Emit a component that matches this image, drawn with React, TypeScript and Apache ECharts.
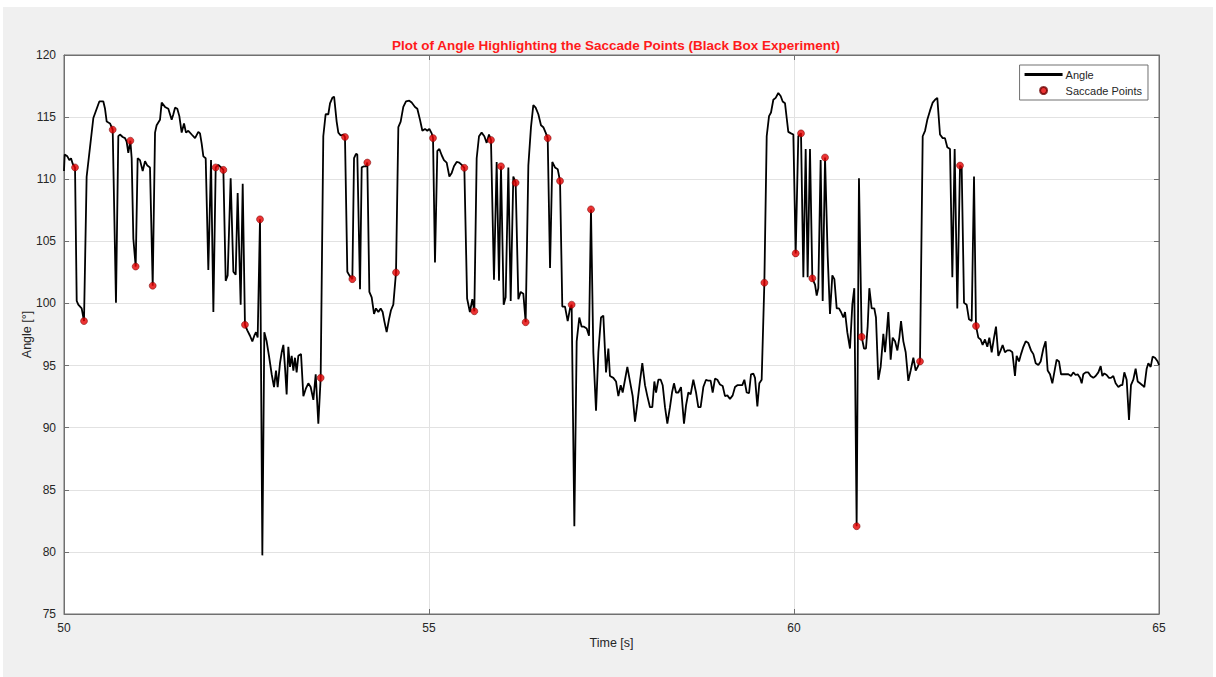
import { useEffect, useRef } from "react";
import * as echarts from "echarts";

// Time stamps [s] of the angle trace
const timeS = [
  50.0, 50.009, 50.046, 50.073, 50.096, 50.119, 50.151, 50.174, 50.196, 50.242, 50.274, 50.31, 50.356, 50.402, 50.448, 50.484, 50.539, 50.562, 50.585, 50.63,
  50.667, 50.712, 50.744, 50.767, 50.804, 50.836, 50.858, 50.881, 50.909, 50.927, 50.95, 50.982, 51.009, 51.041, 51.078, 51.11, 51.142, 51.178, 51.215, 51.247,
  51.269, 51.315, 51.338, 51.384, 51.429, 51.475, 51.498, 51.521, 51.552, 51.58, 51.612, 51.644, 51.671, 51.703, 51.749, 51.795, 51.84, 51.863, 51.886, 51.909,
  51.941, 51.977, 52.014, 52.046, 52.078, 52.114, 52.151, 52.183, 52.215, 52.242, 52.283, 52.32, 52.352, 52.379, 52.42, 52.448, 52.479, 52.511, 52.548, 52.58,
  52.607, 52.63, 52.653, 52.685, 52.717, 52.744, 52.776, 52.808, 52.845, 52.877, 52.904, 52.927, 52.959, 52.982, 53.005, 53.027, 53.05, 53.073, 53.096, 53.119,
  53.142, 53.164, 53.187, 53.21, 53.247, 53.279, 53.311, 53.347, 53.379, 53.416, 53.448, 53.484, 53.516, 53.552, 53.584, 53.621, 53.644, 53.676, 53.7, 53.735,
  53.758, 53.79, 53.826, 53.849, 53.881, 53.909, 53.95, 53.973, 54.0, 54.018, 54.055, 54.078, 54.11, 54.137, 54.155, 54.183, 54.215, 54.247, 54.274, 54.306,
  54.338, 54.365, 54.388, 54.42, 54.452, 54.479, 54.511, 54.548, 54.58, 54.612, 54.648, 54.685, 54.73, 54.763, 54.808, 54.84, 54.877, 54.909, 54.945, 54.977,
  55.005, 55.037, 55.055, 55.082, 55.114, 55.142, 55.174, 55.205, 55.242, 55.279, 55.311, 55.342, 55.379, 55.415, 55.448, 55.484, 55.522, 55.56, 55.594, 55.621,
  55.653, 55.685, 55.721, 55.758, 55.79, 55.822, 55.849, 55.89, 55.927, 55.959, 55.986, 56.023, 56.05, 56.087, 56.119, 56.155, 56.187, 56.224, 56.256, 56.292,
  56.324, 56.361, 56.397, 56.429, 56.461, 56.498, 56.534, 56.566, 56.598, 56.626, 56.658, 56.689, 56.726, 56.763, 56.795, 56.826, 56.863, 56.9, 56.932, 56.954,
  56.991, 57.023, 57.059, 57.091, 57.123, 57.16, 57.192, 57.219, 57.251, 57.288, 57.32, 57.356, 57.388, 57.425, 57.457, 57.479, 57.525, 57.562, 57.594, 57.626,
  57.653, 57.685, 57.717, 57.753, 57.79, 57.822, 57.854, 57.89, 57.922, 57.959, 57.991, 58.027, 58.059, 58.087, 58.11, 58.142, 58.174, 58.201, 58.233, 58.265,
  58.301, 58.329, 58.356, 58.384, 58.416, 58.452, 58.493, 58.521, 58.553, 58.584, 58.621, 58.658, 58.689, 58.721, 58.758, 58.795, 58.826, 58.858, 58.886, 58.918,
  58.95, 58.986, 59.023, 59.055, 59.087, 59.123, 59.16, 59.192, 59.224, 59.26, 59.292, 59.32, 59.352, 59.384, 59.411, 59.443, 59.466, 59.498, 59.525, 59.557,
  59.594, 59.626, 59.658, 59.685, 59.717, 59.749, 59.785, 59.817, 59.845, 59.877, 59.9, 59.922, 59.959, 59.991, 60.023, 60.059, 60.096, 60.128, 60.16, 60.187,
  60.219, 60.251, 60.288, 60.311, 60.333, 60.365, 60.393, 60.425, 60.461, 60.493, 60.525, 60.553, 60.585, 60.616, 60.644, 60.676, 60.699, 60.73, 60.767, 60.799,
  60.826, 60.858, 60.89, 60.927, 60.959, 60.986, 61.009, 61.032, 61.064, 61.1, 61.123, 61.155, 61.187, 61.224, 61.247, 61.269, 61.292, 61.324, 61.352, 61.384,
  61.416, 61.443, 61.466, 61.498, 61.53, 61.566, 61.598, 61.635, 61.667, 61.694, 61.726, 61.763, 61.795, 61.826, 61.863, 61.9, 61.932, 61.963, 62.0, 62.037,
  62.068, 62.1, 62.137, 62.169, 62.201, 62.237, 62.274, 62.297, 62.329, 62.365, 62.397, 62.434, 62.466, 62.493, 62.525, 62.557, 62.584, 62.616, 62.648, 62.676,
  62.708, 62.74, 62.767, 62.799, 62.831, 62.858, 62.89, 62.922, 62.959, 62.991, 63.027, 63.05, 63.082, 63.11, 63.142, 63.174, 63.21, 63.247, 63.279, 63.311,
  63.347, 63.379, 63.416, 63.447, 63.475, 63.507, 63.539, 63.575, 63.598, 63.63, 63.658, 63.69, 63.721, 63.758, 63.795, 63.826, 63.858, 63.886, 63.918, 63.941,
  63.963, 63.995, 64.032, 64.064, 64.1, 64.132, 64.169, 64.201, 64.224, 64.251, 64.283, 64.315, 64.342, 64.374, 64.406, 64.443, 64.475, 64.498, 64.525, 64.557,
  64.589, 64.616, 64.648, 64.68, 64.708, 64.74, 64.772, 64.799, 64.831, 64.854, 64.886, 64.913, 64.945, 64.982, 65.0,
];

// Angle values [°] matching timeS
const angleDeg = [
  110.66, 111.98, 111.84, 111.54, 111.69, 111.25, 110.95, 100.2, 99.9, 99.6, 98.58, 110.2, 112.57, 114.93, 115.67, 116.26, 116.26, 115.67, 114.64, 114.49,
  113.99, 100.05, 113.46, 113.6, 113.4, 113.31, 113.02, 112.13, 113.1, 111.69, 105.21, 102.97, 111.69, 111.54, 110.66, 111.45, 111.1, 110.95, 101.43, 113.75,
  114.34, 114.78, 116.17, 115.82, 115.67, 114.78, 115.23, 115.76, 115.67, 115.08, 113.75, 114.49, 113.75, 113.9, 113.6, 113.31, 113.81, 113.69, 112.87, 111.84,
  111.69, 102.7, 111.54, 99.31, 110.95, 111.16, 110.95, 110.75, 101.82, 102.26, 110.07, 102.55, 102.32, 108.89, 99.9, 109.63, 98.28, 97.84, 97.4, 96.95,
  97.4, 97.69, 97.25, 106.77, 79.72, 97.69, 96.95, 95.78, 94.3, 93.27, 94.6, 93.27, 95.19, 96.07, 96.66, 94.89, 92.68, 96.51, 94.89, 95.78,
  94.6, 95.63, 94.45, 95.78, 95.92, 92.53, 93.12, 93.57, 93.27, 92.24, 94.3, 90.32, 94.01, 113.46, 115.23, 115.23, 116.11, 116.55, 116.65, 114.64,
  113.75, 113.52, 113.6, 113.4, 102.55, 102.26, 101.96, 111.69, 112.04, 111.98, 101.14, 110.95, 111.04, 111.04, 111.34, 100.93, 100.49, 99.16, 99.6, 99.31,
  99.6, 99.31, 98.58, 97.69, 98.72, 99.45, 99.9, 102.49, 114.19, 114.64, 115.82, 116.26, 116.32, 116.17, 115.82, 115.67, 114.78, 113.9, 114.05, 113.9,
  114.05, 113.69, 113.31, 103.29, 112.28, 112.43, 111.93, 111.54, 111.34, 110.22, 110.51, 111.04, 111.39, 111.34, 111.16, 110.92, 100.4, 99.31, 100.34, 99.37,
  111.69, 113.46, 113.75, 113.46, 112.93, 113.6, 113.16, 101.9, 111.39, 101.82, 111.04, 99.9, 100.49, 110.95, 100.2, 110.22, 109.71, 100.34, 100.93, 100.79,
  98.49, 111.1, 114.19, 115.96, 115.76, 115.23, 114.34, 114.19, 113.75, 113.31, 102.85, 111.39, 110.95, 110.81, 109.86, 99.75, 99.75, 98.58, 99.6, 99.9,
  82.07, 96.95, 98.87, 98.13, 98.13, 97.99, 97.4, 107.57, 96.07, 91.36, 96.07, 98.87, 99.02, 94.45, 96.37, 94.16, 94.01, 93.72, 92.54, 93.42,
  92.83, 93.86, 94.89, 93.72, 92.54, 90.48, 91.95, 93.72, 95.19, 93.42, 92.54, 91.65, 91.65, 93.72, 92.83, 93.86, 93.86, 93.42, 91.65, 90.33,
  91.65, 92.83, 93.57, 92.83, 92.83, 93.27, 90.33, 91.8, 92.83, 92.68, 93.86, 92.83, 91.65, 91.65, 93.27, 93.86, 93.78, 93.78, 92.83, 93.95,
  93.86, 93.48, 93.36, 92.54, 92.6, 92.3, 92.6, 93.27, 93.42, 93.42, 93.42, 93.86, 92.83, 92.77, 94.3, 94.36, 94.01, 91.71, 93.57, 93.86,
  101.67, 113.46, 115.08, 115.37, 116.4, 116.55, 116.94, 116.7, 116.26, 116.11, 114.93, 113.81, 113.69, 113.6, 104.03, 113.46, 113.69, 102.11, 112.43, 102.11,
  112.43, 102.02, 101.52, 100.64, 101.23, 111.54, 100.2, 111.75, 103.88, 99.16, 102.26, 101.96, 99.6, 99.6, 99.31, 98.87, 99.31, 97.69, 96.37, 99.9,
  101.23, 82.07, 110.07, 97.31, 96.37, 96.37, 98.13, 101.23, 99.6, 99.6, 98.87, 93.86, 94.89, 97.55, 96.07, 97.55, 99.31, 95.48, 97.25, 96.95,
  96.22, 97.25, 98.58, 96.95, 96.07, 93.77, 94.6, 95.63, 94.6, 94.89, 95.33, 113.46, 113.9, 114.78, 115.52, 116.17, 116.4, 116.55, 113.6, 113.31,
  113.31, 112.57, 112.43, 102.11, 112.43, 99.6, 111.1, 110.95, 100.05, 99.9, 98.72, 98.58, 110.22, 98.19, 97.25, 97.1, 96.66, 97.1, 96.51, 97.25,
  96.07, 97.25, 98.13, 95.78, 96.22, 96.66, 96.07, 96.22, 96.22, 96.07, 94.16, 95.78, 95.33, 95.92, 96.51, 96.95, 96.81, 96.22, 95.92, 95.19,
  95.04, 95.33, 96.37, 96.95, 94.6, 94.3, 93.57, 94.75, 95.48, 95.33, 94.3, 94.3, 94.3, 94.3, 94.16, 94.45, 94.24, 94.3, 94.01, 93.57,
  94.3, 94.45, 94.45, 94.16, 94.01, 94.16, 94.45, 94.95, 94.16, 94.37, 94.24, 94.01, 94.01, 94.16, 93.57, 93.27, 93.42, 93.42, 94.45, 93.86,
  90.62, 93.42, 93.86, 94.75, 93.72, 93.57, 93.42, 93.27, 94.75, 95.19, 94.89, 95.72, 95.63, 95.33, 95.04,
];

// Detected saccade points
const saccadeTimeS = [
  50.151, 50.274, 50.667, 50.909, 50.982, 51.215, 52.078, 52.183, 52.479, 52.685, 53.516, 53.849,
  53.95, 54.155, 54.548, 55.055, 55.484, 55.621, 55.849, 55.986, 56.187, 56.324, 56.626, 56.795,
  56.954, 57.219, 59.594, 60.023, 60.096, 60.251, 60.425, 60.858, 60.927, 61.726, 62.274, 62.493,
];
const saccadeAngleDeg = [
  110.95, 98.58, 113.99, 113.1, 102.97, 101.43, 110.95, 110.75, 98.28, 106.77, 94.01, 113.4,
  101.96, 111.34, 102.49, 113.31, 110.92, 99.37, 113.16, 111.04, 109.71, 98.49, 113.31, 109.86,
  99.9, 107.57, 101.67, 104.03, 113.69, 102.02, 111.75, 82.07, 97.31, 95.33, 111.1, 98.19,
];

const xMin = 50, xMax = 65, xStep = 5;
const yMin = 75, yMax = 120, yStep = 5;

const FONT = "'Liberation Sans', Arial, Helvetica, sans-serif";
const AX = "#262626";
const BOX = "#707070";
const GRIDC = "#e2e2e2";

export default function App() {
  const ref = useRef<HTMLDivElement>(null);
  useEffect(() => {
    document.body.style.margin = "0";
    if (!ref.current) return;
    const chart = echarts.init(ref.current, undefined, { renderer: "svg" });
    const lineData = timeS.map((t, i) => [t, angleDeg[i]]);
    const dotData = saccadeTimeS.map((t, i) => [t, saccadeAngleDeg[i]]);
    const baseX = {
      type: "value",
      min: xMin,
      max: xMax,
      interval: xStep,
      axisLine: { show: true, lineStyle: { color: BOX, width: 1 } },
      axisTick: { show: true, inside: true, length: 5, lineStyle: { color: BOX } },
    };
    const baseY = {
      type: "value",
      min: yMin,
      max: yMax,
      interval: yStep,
      axisLine: { show: true, lineStyle: { color: BOX, width: 1 } },
      axisTick: { show: true, inside: true, length: 5, lineStyle: { color: BOX } },
    };
    chart.setOption({
      animation: false,
      backgroundColor: "transparent",
      title: {
        text: "Plot of Angle Highlighting the Saccade Points (Black Box Experiment)",
        left: 611,
        textAlign: "center",
        top: 33,
        textStyle: { color: "#ff1a1a", fontSize: 13.5, fontWeight: "bold", fontFamily: FONT },
      },
      grid: {
        left: 64,
        top: 55,
        width: 1095,
        height: 559,
        show: true,
        backgroundColor: "#ffffff",
        borderColor: BOX,
        borderWidth: 1,
      },
      legend: {
        orient: "vertical",
        right: 68,
        top: 65,
        itemWidth: 38,
        itemHeight: 7,
        itemGap: 5,
        padding: [4, 6, 4, 5],
        backgroundColor: "#ffffff",
        borderColor: BOX,
        borderWidth: 1,
        borderRadius: 0,
        textStyle: { color: AX, fontSize: 11, fontFamily: FONT, padding: [0, 0, 0, -2] },
        data: [
          { name: "Angle", icon: "path://M0,0 L40,0 L40,3 L0,3 Z" },
          { name: "Saccade Points", icon: "circle" },
        ],
      },
      xAxis: [
        {
          ...baseX,
          position: "bottom",
          name: "Time [s]",
          nameLocation: "middle",
          nameGap: 22,
          nameMoveOverlap: false,
          nameTextStyle: { color: AX, fontSize: 12.5, fontFamily: FONT },
          axisLabel: { color: AX, fontSize: 12, fontFamily: FONT, margin: 8 },
          splitLine: { show: true, lineStyle: { color: GRIDC, width: 1 } },
        },
        {
          ...baseX,
          position: "top",
          axisLabel: { show: false },
          splitLine: { show: false },
        },
      ],
      yAxis: [
        {
          ...baseY,
          position: "left",
          name: "Angle [°]",
          nameLocation: "middle",
          nameGap: 31,
          nameMoveOverlap: false,
          nameTextStyle: { color: AX, fontSize: 12.5, fontFamily: FONT },
          axisLabel: { color: AX, fontSize: 12, fontFamily: FONT, margin: 8 },
          splitLine: { show: true, lineStyle: { color: GRIDC, width: 1 } },
        },
        {
          ...baseY,
          position: "right",
          axisLabel: { show: false },
          splitLine: { show: false },
        },
      ],
      series: [
        {
          name: "Angle",
          type: "line",
          data: lineData,
          xAxisIndex: 0,
          yAxisIndex: 0,
          showSymbol: false,
          symbol: "none",
          lineStyle: { color: "#000000", width: 1.8 },
          itemStyle: { color: "#000000" },
          z: 2,
        },
        {
          name: "Saccade Points",
          type: "scatter",
          data: dotData,
          xAxisIndex: 0,
          yAxisIndex: 0,
          symbol: "circle",
          symbolSize: 7,
          itemStyle: { color: "#e60000", borderColor: "#6b0000", borderWidth: 0.6 },
          z: 3,
        },
      ],
    });
    return () => chart.dispose();
  }, []);

  return (
    <div style={{ position: "relative", width: 1216, height: 677, background: "#ffffff", overflow: "hidden" }}>
      <div style={{ position: "absolute", left: 3, top: 7, width: 1210, height: 670, background: "#f0f0f0" }} />
      <div ref={ref} style={{ position: "absolute", left: 0, top: 0, width: 1216, height: 677 }} />
    </div>
  );
}
